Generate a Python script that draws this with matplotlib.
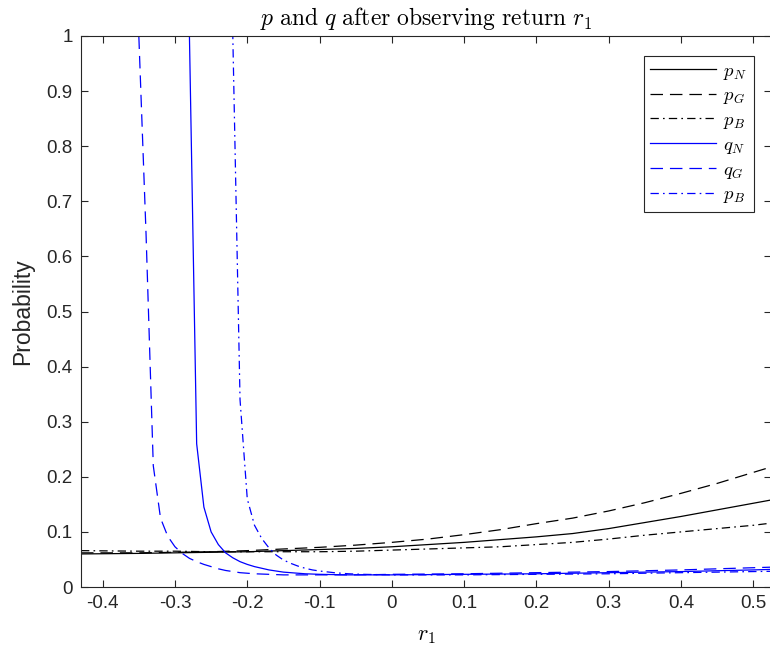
import numpy as np
import matplotlib
matplotlib.use('Agg')
from matplotlib import pyplot as plt

plt.rcParams['font.family'] = ['Liberation Sans', 'DejaVu Sans']
plt.rcParams['mathtext.fontset'] = 'cm'
plt.rcParams['lines.scale_dashes'] = False

# black curves (p)
r_p = [-0.43, -0.35, -0.30, -0.25, -0.20, -0.15, -0.10, -0.05, 0.00, 0.05,
       0.10, 0.15, 0.20, 0.25, 0.30, 0.35, 0.40, 0.45, 0.50, 0.525]
p_N = [0.060, 0.061, 0.062, 0.063, 0.064, 0.066, 0.068, 0.070, 0.073, 0.077,
       0.081, 0.086, 0.091, 0.097, 0.106, 0.117, 0.128, 0.140, 0.152, 0.158]
p_G = [0.062, 0.062, 0.063, 0.064, 0.066, 0.069, 0.072, 0.076, 0.081, 0.087,
       0.095, 0.104, 0.115, 0.125, 0.138, 0.153, 0.170, 0.188, 0.208, 0.218]
p_B = [0.066, 0.065, 0.065, 0.064, 0.064, 0.064, 0.064, 0.065, 0.067, 0.069,
       0.071, 0.073, 0.077, 0.081, 0.087, 0.094, 0.100, 0.106, 0.112, 0.116]

# blue curves (q)
r_q = [-0.43, -0.40, -0.37,
       -0.35, -0.34, -0.33, -0.32, -0.31, -0.30, -0.29, -0.28, -0.27, -0.26,
       -0.25, -0.24, -0.23, -0.22, -0.21, -0.20, -0.19, -0.18, -0.17, -0.16,
       -0.15, -0.14, -0.13, -0.12, -0.11, -0.10,
       -0.08, -0.06, -0.04, -0.02, 0.00, 0.05, 0.10, 0.15, 0.20, 0.25,
       0.30, 0.35, 0.40, 0.45, 0.50, 0.525]
q_N = [1, 1, 1,
       1, 1, 1, 1, 1, 1, 1, 1, 0.26, 0.145,
       0.100, 0.077, 0.062, 0.053, 0.046, 0.041, 0.037, 0.034, 0.031, 0.029,
       0.027, 0.026, 0.025, 0.024, 0.0235, 0.023,
       0.0225, 0.022, 0.022, 0.022, 0.022, 0.0225, 0.023, 0.0235, 0.024, 0.025,
       0.026, 0.027, 0.028, 0.0295, 0.031, 0.032]
q_G = [1, 1, 1,
       1, 0.64, 0.22, 0.125, 0.092, 0.073, 0.061, 0.052, 0.046, 0.041,
       0.037, 0.033, 0.030, 0.028, 0.026, 0.025, 0.024, 0.0235, 0.023, 0.0225,
       0.022, 0.022, 0.022, 0.022, 0.022, 0.022,
       0.022, 0.022, 0.0222, 0.0225, 0.023, 0.0235, 0.024, 0.025, 0.026, 0.027,
       0.028, 0.0295, 0.031, 0.033, 0.035, 0.036]
q_B = [1, 1, 1,
       1, 1, 1, 1, 1, 1, 1, 1, 1, 1,
       1, 1, 1, 1, 0.34, 0.16, 0.112, 0.088, 0.071, 0.058,
       0.049, 0.043, 0.038, 0.034, 0.031, 0.029,
       0.026, 0.024, 0.023, 0.0225, 0.022, 0.022, 0.022, 0.0225, 0.023, 0.0235,
       0.024, 0.025, 0.026, 0.027, 0.028, 0.0285]

labels = ['$p_N$', '$p_G$', '$p_B$', '$q_N$', '$q_G$', '$p_B$']
xticks = [-0.4, -0.3, -0.2, -0.1, 0, 0.1, 0.2, 0.3, 0.4, 0.5]
yticks = [0, 0.1, 0.2, 0.3, 0.4, 0.5, 0.6, 0.7, 0.8, 0.9, 1]

dash = (0, (9, 5))
dashdot = (0, (6, 3, 1.2, 3))
lw = 0.9

fig = plt.figure(figsize=(7.7, 6.51), dpi=100)
ax = fig.add_axes([81/770, 64/651, 690/770, 551/651])

ax.plot(r_p, p_N, color='k', linestyle='-', linewidth=lw, label=labels[0])
ax.plot(r_p, p_G, color='k', linestyle=dash, linewidth=lw, label=labels[1])
ax.plot(r_p, p_B, color='k', linestyle=dashdot, linewidth=lw, label=labels[2])
ax.plot(r_q, q_N, color='b', linestyle='-', linewidth=lw, label=labels[3])
ax.plot(r_q, q_G, color='b', linestyle=dash, linewidth=lw, label=labels[4])
ax.plot(r_q, q_B, color='b', linestyle=dashdot, linewidth=lw, label=labels[5])

ax.set_xlim(-0.43, 0.5245)
ax.set_ylim(0, 1)
ax.set_xticks(xticks)
ax.set_xticklabels(['%g' % t for t in xticks])
ax.set_yticks(yticks)
ax.set_yticklabels(['%g' % t for t in yticks])

grey = '#262626'
for s in ax.spines.values():
    s.set_color(grey)
    s.set_linewidth(0.8)
ax.spines['right'].set_visible(False)
ax.tick_params(direction='in', top=True, right=True, length=5, width=0.8,
               colors=grey, labelsize=13.5, pad=6)

ax.set_ylabel('Probability', fontsize=16.5, color=grey, labelpad=9)
ax.set_xlabel('$r_1$', fontsize=16, labelpad=9)
ax.set_title(r'$p\ \mathrm{and}\ q\ \mathrm{after\ observing\ return}\ r_1$',
             fontsize=17, pad=8)

leg = ax.legend(loc='upper right', bbox_to_anchor=(0.975, 0.964), borderaxespad=0,
                fontsize=13.5, handlelength=3.5, frameon=True, fancybox=False,
                framealpha=1, edgecolor=grey, labelspacing=0.3,
                borderpad=0.35, handletextpad=0.4)
leg.get_frame().set_linewidth(0.8)

plt.savefig('out.png', dpi=100)
